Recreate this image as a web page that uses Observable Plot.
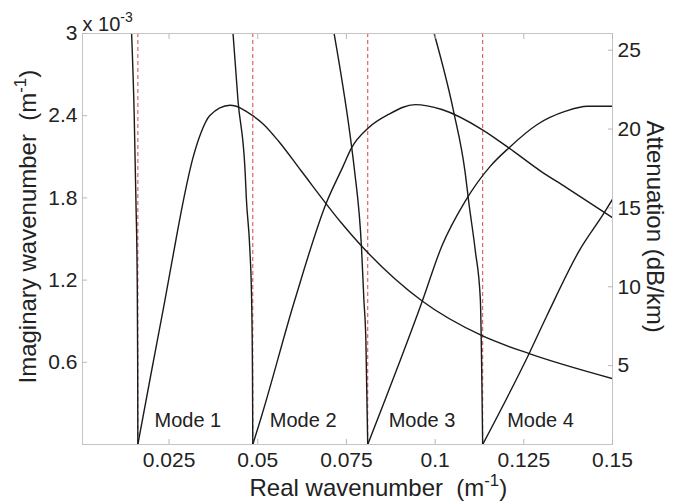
<!DOCTYPE html>
<html><head><meta charset="utf-8">
<script src="https://cdn.jsdelivr.net/npm/d3@7"></script>
<script src="https://cdn.jsdelivr.net/npm/@observablehq/plot@0.6"></script>
<style>body{margin:0;background:#fff}#chart svg{display:block}</style>
</head><body><div id="chart"></div>
<script>
// ---- data (imaginary wavenumber in units of 1e-3 m^-1) ----
const xTicks = [0.025, 0.05, 0.075, 0.1, 0.125, 0.15];
const yTicks = [0.6, 1.2, 1.8, 2.4, 3];
const dbTicks = [5, 10, 15, 20, 25];
const dbPerUnit = 8.686; // dB/km per 1e-3 m^-1

const modeNames = ["Mode 1", "Mode 2", "Mode 3", "Mode 4"];
const cutoffs = [0.0162, 0.0486, 0.0810, 0.1134];
const labelX = [0.0209, 0.0534, 0.0869, 0.1203];

// evanescent branches (below cut-off)
const ev1X = [0.01444, 0.01518, 0.01566, 0.01603, 0.01615, 0.0162];
const ev1Y = [3.0, 2.40, 1.78, 1.19, 0.60, 0];
const ev2X = [0.04303, 0.04445, 0.04643, 0.04680, 0.04776, 0.04827, 0.04852, 0.0486];
const ev2Y = [3.0, 2.505, 1.996, 1.79, 1.43, 1.06, 0.50, 0];
const ev3X = [0.07153, 0.07643, 0.07728, 0.07926, 0.07991, 0.08048, 0.0810];
const ev3Y = [3.0, 2.18, 2.0, 1.43, 1.06, 0.76, 0];
const ev4X = [0.09972, 0.10522, 0.10841, 0.10955, 0.11133, 0.11274, 0.1134];
const ev4Y = [3.0, 2.43, 1.996, 1.756, 1.413, 1.063, 0];

// propagating branches (above cut-off)
const m1X = [0.0162, 0.0198, 0.0237, 0.02698, 0.02888, 0.03171, 0.03406, 0.03644, 0.04218, 0.04861, 0.05152, 0.0560, 0.06228, 0.07360, 0.07926, 0.09624, 0.11323, 0.12653, 0.15];
const m1Y = [0, 0.50, 1.034, 1.50, 1.76, 2.09, 2.28, 2.40, 2.476, 2.40, 2.34, 2.21, 1.996, 1.617, 1.449, 1.049, 0.794, 0.663, 0.481];
const m2X = [0.0486, 0.05096, 0.06038, 0.06935, 0.07408, 0.07643, 0.08116, 0.08682, 0.09435, 0.10190, 0.11323, 0.12078, 0.12973, 0.13680, 0.15];
const m2Y = [0, 0.197, 1.049, 1.765, 2.032, 2.165, 2.311, 2.409, 2.481, 2.445, 2.299, 2.165, 1.996, 1.879, 1.655];
const m3X = [0.0810, 0.09624, 0.10190, 0.10850, 0.11558, 0.12078, 0.12879, 0.13680, 0.14294, 0.15];
const m3Y = [0, 1.036, 1.449, 1.777, 2.032, 2.165, 2.336, 2.433, 2.469, 2.469];
const m4X = [0.1134, 0.12644, 0.13163, 0.14060, 0.14768, 0.15];
const m4Y = [0, 0.661, 0.947, 1.413, 1.692, 1.79];

const branches = [
  {name: "ev1", x: ev1X, y: ev1Y}, {name: "ev2", x: ev2X, y: ev2Y},
  {name: "ev3", x: ev3X, y: ev3Y}, {name: "ev4", x: ev4X, y: ev4Y},
  {name: "m1", x: m1X, y: m1Y}, {name: "m2", x: m2X, y: m2Y},
  {name: "m3", x: m3X, y: m3Y}, {name: "m4", x: m4X, y: m4Y}
];
const rows = branches.flatMap(b => b.x.map((x, i) => ({branch: b.name, x, y: b.y[i]})));
const labels = modeNames.map((name, i) => ({name, x: labelX[i]}));

const font = "'Liberation Sans', Arial, Helvetica, sans-serif";
const axisGray = "#b8b8b8";

const chart = Plot.plot({
  width: 678, height: 504,
  marginLeft: 82, marginRight: 66, marginTop: 33, marginBottom: 60,
  style: {fontFamily: font, fontSize: "21px", color: "#222", background: "#fff", overflow: "visible"},
  x: {domain: [0.0006, 0.15]},
  y: {domain: [0, 3]},
  marks: [
    Plot.ruleX(cutoffs, {stroke: "#dd5555", strokeWidth: 1.1, strokeDasharray: "4,3"}),
    Plot.line(rows, {x: "x", y: "y", z: "branch", stroke: "#1a1a1a", strokeWidth: 1.4, curve: "monotone-x", clip: true}),
    Plot.frame({stroke: "#c4c4c4"}),
    Plot.axisX(xTicks, {anchor: "bottom", tickSize: -5, tickPadding: 13, stroke: axisGray, fill: "#222", tickFormat: d => String(d), label: null}),
    Plot.axisX(xTicks, {anchor: "top", tickSize: -5, stroke: axisGray, tickFormat: () => "", label: null}),
    Plot.axisY(yTicks, {anchor: "left", tickSize: -5, tickPadding: 10, stroke: axisGray, fill: "#222", tickFormat: d => String(d), label: null}),
    Plot.axisY(dbTicks.map(d => d / dbPerUnit), {anchor: "right", tickSize: -5, tickPadding: 10, stroke: axisGray, fill: "#222", tickFormat: d => String(Math.round(d * dbPerUnit)), label: null}),
    Plot.text(labels, {x: "x", frameAnchor: "bottom", lineAnchor: "middle", dy: -24, text: "name", textAnchor: "start", fontSize: 20, fill: "#222"}),
    Plot.text(["x 10^{-3}"], {frameAnchor: "top-left", textAnchor: "start", lineAnchor: "bottom", dy: -3, dx: 0, fontSize: 20, fill: "#222"}),
    Plot.text(["Imaginary wavenumber\u00a0 (m^{-1})"], {frameAnchor: "left", y: 1.59, dx: -54, rotate: -90, textAnchor: "middle", lineAnchor: "middle", fontSize: 24, fill: "#222"}),
    Plot.text(["Attenuation (dB/km)"], {frameAnchor: "right", y: 1.59, dx: 42, rotate: 90, textAnchor: "middle", lineAnchor: "middle", fontSize: 24, fill: "#222"}),
    Plot.text(["Real wavenumber\u00a0 (m^{-1})"], {frameAnchor: "bottom", x: 0.0840, dy: 44, textAnchor: "middle", lineAnchor: "middle", fontSize: 24, fill: "#222"})
  ]
});

// superscripts: turn "^{...}" into raised tspans
function applySup(root) {
  const ns = "http://www.w3.org/2000/svg";
  root.querySelectorAll("text").forEach(t => {
    const s = t.textContent;
    if (!s.includes("^{")) return;
    while (t.firstChild) t.removeChild(t.firstChild);
    const re = /\^\{([^}]*)\}/g;
    let last = 0, m, raised = false;
    const add = (txt, attrs) => {
      const ts = document.createElementNS(ns, "tspan");
      ts.textContent = txt;
      for (const k in attrs) ts.setAttribute(k, attrs[k]);
      t.appendChild(ts);
    };
    while ((m = re.exec(s))) {
      if (m.index > last) { add(s.slice(last, m.index), raised ? {dy: "0.42em"} : {}); raised = false; }
      add(m[1], {"font-size": "70%", dy: "-0.6em"});
      raised = true;
      last = re.lastIndex;
    }
    if (last < s.length) add(s.slice(last), raised ? {dy: "0.42em"} : {});
  });
}
applySup(chart);
document.getElementById("chart").appendChild(chart);
</script>
</body></html>
